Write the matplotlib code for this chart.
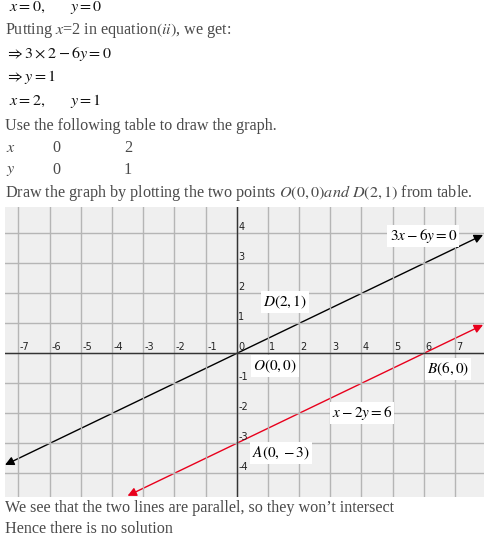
import matplotlib
matplotlib.use('Agg')
import matplotlib.pyplot as plt
from matplotlib.patches import FancyArrowPatch

plt.rcParams['font.family'] = ['Liberation Serif', 'DejaVu Serif']
plt.rcParams['mathtext.fontset'] = 'stix'

# data
x_ticks = [-7, -6, -5, -4, -3, -2, -1, 1, 2, 3, 4, 5, 6, 7]
y_ticks = [-4, -3, -2, -1, 1, 2, 3, 4]
black_x = [-7.43, 7.9]
black_y = [-3.72, 3.95]
red_x = [-3.5, 7.9]
red_y = [-4.75, 0.95]
point_labels = ['$D(2,1)$', '$O(0,0)$', '$B(6,0)$', '$A(0,-3)$', '$3x-6y=0$', '$x-2y=6$']
label_pos = [(0.85, 1.71), (0.52, -0.42), (6.1, -0.52), (0.5, -3.32), (4.9, 3.92), (3.05, -2.0)]
table_x = ['0', '2']
table_y = ['0', '1']

W, H = 493, 537
fig = plt.figure(figsize=(W / 100, H / 100), dpi=100)
txt = '#4a4a4a'
fs = 11.6

def line(py, s, px=5, color=txt, size=fs):
    return fig.text(px / W, 1 - py / H, s, color=color, fontsize=size, va='center', ha='left')

line(7, r'$x=0,\qquad y=0$', px=9, color='#111111')
line(31, r'Putting $x$=2 in equation$\left(ii\right)$, we get:')
line(54, r'$\Rightarrow 3\times 2-6y=0$', px=5, color='#111111')
line(77, r'$\Rightarrow y=1$', px=5, color='#111111')
line(101, r'$x=2,\qquad y=1$', px=9, color='#111111')
line(126, 'Use the following table to draw the graph.')
line(148, '$x$', px=6)
line(170, '$y$', px=6)
for i in range(len(table_x)):
    line(148, table_x[i], px=52 + 72 * i)
    line(170, table_y[i], px=52 + 72 * i)
line(193, r'Draw the graph by plotting the two points $O\left(0,0\right) and\ D\left(2,1\right)$ from table.')
line(508, 'We see that the two lines are parallel, so they won\u2019t intersect')
line(529, 'Hence there is no solution')

# graph
ax = fig.add_axes([5 / W, 1 - 497 / H, 479 / W, 290 / H])
ax.set_facecolor('#efefef')
ax.set_xlim(-7.43, 7.93)
ax.set_ylim(-4.79, 4.88)
ax.set_xticks(x_ticks + [0])
ax.set_yticks(y_ticks + [0])
ax.grid(color='#b5b5b5', lw=1)
ax.tick_params(length=0, labelbottom=False, labelleft=False)
for s in ax.spines.values():
    s.set_visible(False)
ax.axhline(0, color='#333333', lw=1)
ax.axvline(0, color='#333333', lw=1)

for v in x_ticks:
    ax.text(v + 0.05, 0.03, str(v), fontsize=7, family='DejaVu Sans', color='#222222', va='bottom', ha='left')
for v in y_ticks:
    ax.text(0.05, v + 0.03, str(v), fontsize=7, family='DejaVu Sans', color='#222222', va='bottom', ha='left')
ax.text(0.05, 0.03, '0', fontsize=7, family='DejaVu Sans', color='#222222', va='bottom', ha='left')

for xs, ys, c in [(black_x, black_y, 'black'), (red_x, red_y, '#e8001c')]:
    ar = FancyArrowPatch((xs[0], ys[0]), (xs[1], ys[1]), arrowstyle='<|-|>', mutation_scale=13,
                         color=c, lw=1, shrinkA=0, shrinkB=0)
    ax.add_patch(ar)

for lab, (px, py) in zip(point_labels, label_pos):
    ax.text(px, py, lab, fontsize=11, color='black', va='center', ha='left',
            bbox=dict(facecolor='white', edgecolor='none', pad=1.5))

fig.savefig('out.png', dpi=100)
